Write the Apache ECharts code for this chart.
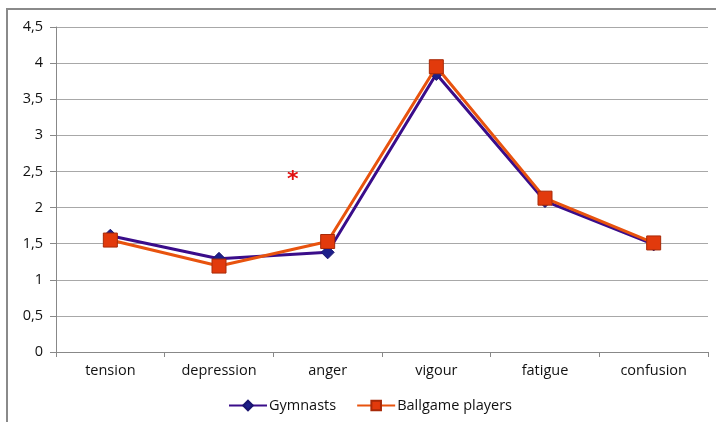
<!DOCTYPE html>
<html><head><meta charset="utf-8">
<script src="https://cdn.jsdelivr.net/npm/echarts@6/dist/echarts.min.js"></script>
<style>html,body{margin:0;padding:0;background:#fff}#c{width:716px;height:422px}</style>
</head><body><div id="c"></div>
<script>
const categories = ['tension','depression','anger','vigour','fatigue','confusion'];
const gymnasts = [1.61, 1.29, 1.38, 3.85, 2.09, 1.49];
const ballgame = [1.55, 1.19, 1.53, 3.95, 2.13, 1.51];
const yTicks = ['0','0,5','1','1,5','2','2,5','3','3,5','4','4,5'];
const significance = {category: 'anger', value: 2.45, label: '*'};

const chart = echarts.init(document.getElementById('c'), null, {renderer:'canvas'});
const font = 'Open Sans';
chart.setOption({
  animation:false,
  backgroundColor:'#fff',
  graphic:[{type:'rect', shape:{x:7,y:9,width:760,height:460}, style:{fill:'none', stroke:'#8a8a8a', lineWidth:2}, silent:true}],
  grid:{left:56,right:8,top:27,bottom:70},
  legend:{
    bottom:4, left:223, itemGap:20, itemWidth:38, itemHeight:12,
    textStyle:{fontFamily:font,fontSize:14.5,color:'#111',padding:[0,0,0,-3]},
    data:['Gymnasts','Ballgame players']
  },
  xAxis:{
    type:'category', data:categories, boundaryGap:true,
    axisLine:{lineStyle:{color:'#888',width:1}},
    axisTick:{show:true,length:5,lineStyle:{color:'#888'}},
    axisLabel:{fontFamily:font,fontSize:14.5,color:'#111',margin:11}
  },
  yAxis:{
    type:'value', min:0, max:4.5, interval:0.5,
    axisLine:{show:true,lineStyle:{color:'#888',width:1}},
    axisTick:{show:true,length:6,lineStyle:{color:'#888'}},
    axisLabel:{fontFamily:font,fontSize:14.5,color:'#111',margin:13,
      formatter:(v)=>yTicks[Math.round(v*2)]},
    splitLine:{lineStyle:{color:'#a8a8a8',width:1}}
  },
  series:[
    {name:'Gymnasts', type:'line', data:gymnasts, symbol:'diamond', symbolSize:13,
     lineStyle:{color:'#3a0d8a',width:3}, itemStyle:{color:'#1d1f8a',borderColor:'#1a1470',borderWidth:1},
     z:2},
    {name:'Ballgame players', type:'line', data:ballgame, symbol:'rect', symbolSize:14,
     lineStyle:{color:'#e8530e',width:3}, itemStyle:{color:'#e23a0c',borderColor:'#a82a08',borderWidth:1},
     z:3,
     markPoint:{
       symbol:'circle', symbolSize:1, itemStyle:{color:'rgba(0,0,0,0)'},
       label:{show:true, position:'inside', formatter:significance.label, color:'#e01010',
              fontFamily:'DejaVu Sans', fontSize:22, fontWeight:'bold', offset:[0,5]},
       symbolOffset:[-35,0],
       data:[{coord:[significance.category, significance.value]}]
     }}
  ]
});
</script></body></html>
